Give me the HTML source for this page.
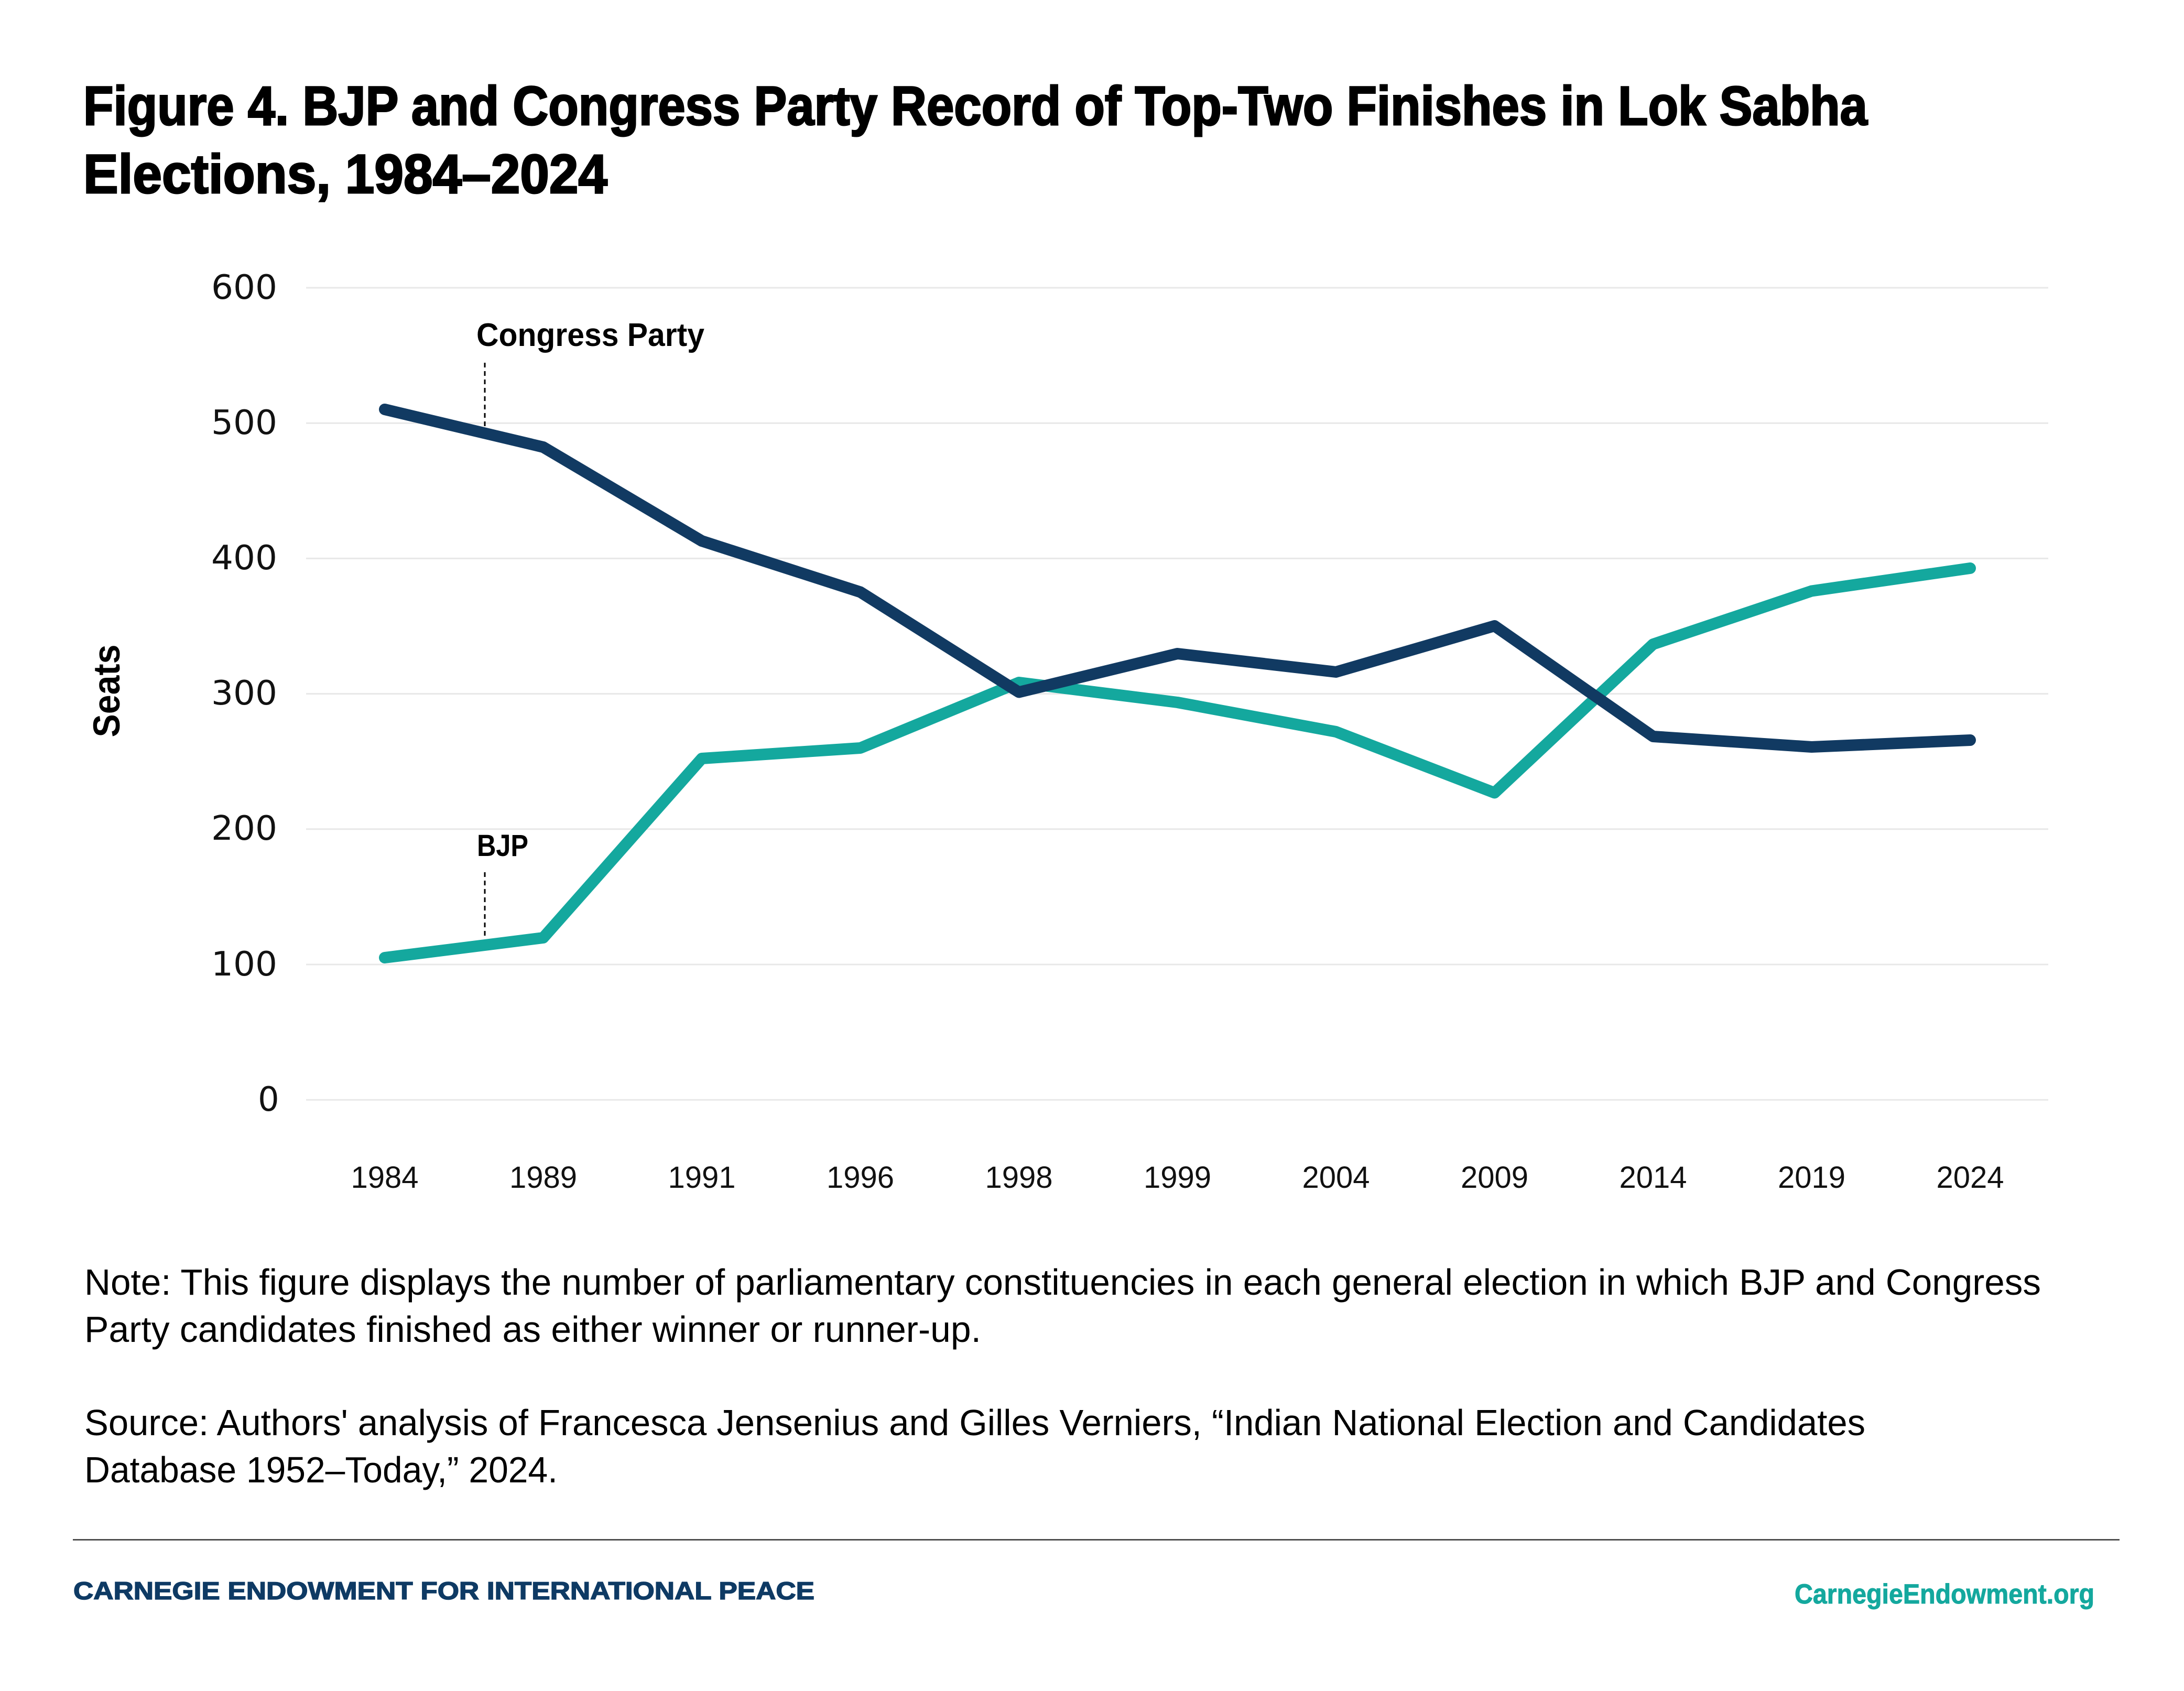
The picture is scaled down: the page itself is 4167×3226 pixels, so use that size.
<!DOCTYPE html>
<html>
<head>
<meta charset="utf-8">
<style>
  html, body { margin: 0; padding: 0; background: #ffffff; }
  svg { display: block; }
</style>
</head>
<body>
<svg width="4167" height="3226" viewBox="0 0 4167 3226" xmlns="http://www.w3.org/2000/svg">
  <rect x="0" y="0" width="4167" height="3226" fill="#ffffff"/>

  <!-- Title -->
  <g font-family="'Liberation Sans', 'DejaVu Sans', sans-serif" font-weight="bold" font-size="105" fill="#000" stroke="#000" stroke-width="3">
    <text x="159" y="238" textLength="3404" lengthAdjust="spacingAndGlyphs">Figure 4. BJP and Congress Party Record of Top-Two Finishes in Lok Sabha</text>
    <text x="159" y="368" textLength="1000" lengthAdjust="spacingAndGlyphs">Elections, 1984–2024</text>
  </g>

  <!-- Gridlines -->
  <g stroke="#e8e8e8" stroke-width="3">
    <line x1="584" y1="549" x2="3908" y2="549"/>
    <line x1="584" y1="807.2" x2="3908" y2="807.2"/>
    <line x1="584" y1="1065.4" x2="3908" y2="1065.4"/>
    <line x1="584" y1="1323.6" x2="3908" y2="1323.6"/>
    <line x1="584" y1="1581.8" x2="3908" y2="1581.8"/>
    <line x1="584" y1="1840" x2="3908" y2="1840"/>
    <line x1="584" y1="2098.2" x2="3908" y2="2098.2"/>
  </g>

  <!-- Y tick labels -->
  <g font-family="'DejaVu Sans', 'Liberation Sans', sans-serif" font-size="64" fill="#111">
    <text x="403" y="570" textLength="126" lengthAdjust="spacingAndGlyphs">600</text>
    <text x="403" y="828" textLength="126" lengthAdjust="spacingAndGlyphs">500</text>
    <text x="403" y="1086" textLength="126" lengthAdjust="spacingAndGlyphs">400</text>
    <text x="403" y="1344" textLength="126" lengthAdjust="spacingAndGlyphs">300</text>
    <text x="403" y="1602" textLength="126" lengthAdjust="spacingAndGlyphs">200</text>
    <text x="403" y="1861" textLength="126" lengthAdjust="spacingAndGlyphs">100</text>
    <text x="492" y="2119">0</text>
  </g>

  <!-- Y axis title -->
  <text transform="translate(228,1318) rotate(-90)" text-anchor="middle" font-family="'Liberation Sans', 'DejaVu Sans', sans-serif" font-weight="bold" font-size="71" fill="#000" textLength="177" lengthAdjust="spacingAndGlyphs">Seats</text>

  <!-- X tick labels -->
  <g font-family="'Liberation Sans', 'DejaVu Sans', sans-serif" font-size="58" fill="#111" text-anchor="middle">
    <text x="734" y="2266">1984</text>
    <text x="1036.5" y="2266">1989</text>
    <text x="1339" y="2266">1991</text>
    <text x="1641.5" y="2266">1996</text>
    <text x="1944" y="2266">1998</text>
    <text x="2246.5" y="2266">1999</text>
    <text x="2549" y="2266">2004</text>
    <text x="2851.5" y="2266">2009</text>
    <text x="3154" y="2266">2014</text>
    <text x="3456.5" y="2266">2019</text>
    <text x="3759" y="2266">2024</text>
  </g>

  <!-- Annotation dashed lines -->
  <g stroke="#000" stroke-width="3" stroke-dasharray="9 7" fill="none">
    <line x1="925" y1="692" x2="925" y2="815"/>
    <line x1="925" y1="1664" x2="925" y2="1789"/>
  </g>

  <!-- BJP series -->
  <polyline fill="none" stroke="#14a89e" stroke-width="22" stroke-linecap="round" stroke-linejoin="round"
    points="734,1827 1036.5,1789 1339,1447 1641.5,1427 1944,1302 2246.5,1340 2549,1396 2851.5,1512.5 3154,1229 3456.5,1127.5 3759,1084"/>

  <!-- Congress series -->
  <polyline fill="none" stroke="#113a62" stroke-width="22" stroke-linecap="round" stroke-linejoin="round"
    points="734,781 1036.5,853 1339,1032 1641.5,1129.5 1944,1320.5 2246.5,1247 2549,1282 2851.5,1194 3154,1405 3456.5,1425 3759,1412"/>

  <!-- Series labels -->
  <g font-family="'Liberation Sans', 'DejaVu Sans', sans-serif" font-weight="bold" fill="#000">
    <text x="909" y="660" font-size="62" textLength="435" lengthAdjust="spacingAndGlyphs">Congress Party</text>
    <text x="910" y="1633" font-size="58" textLength="98" lengthAdjust="spacingAndGlyphs">BJP</text>
  </g>

  <!-- Notes -->
  <g font-family="'Liberation Sans', 'DejaVu Sans', sans-serif" font-size="70" fill="#000">
    <text x="161" y="2470" textLength="3733" lengthAdjust="spacingAndGlyphs">Note: This figure displays the number of parliamentary constituencies in each general election in which BJP and Congress</text>
    <text x="161" y="2560" textLength="1711" lengthAdjust="spacingAndGlyphs">Party candidates finished as either winner or runner-up.</text>
    <text x="161" y="2738" textLength="3398" lengthAdjust="spacingAndGlyphs">Source: Authors' analysis of Francesca Jensenius and Gilles Verniers, “Indian National Election and Candidates</text>
    <text x="161" y="2828" textLength="903" lengthAdjust="spacingAndGlyphs">Database 1952–Today,” 2024.</text>
  </g>

  <!-- Footer rule -->
  <line x1="139" y1="2937.5" x2="4044" y2="2937.5" stroke="#333" stroke-width="2.5"/>

  <!-- Footer text -->
  <text x="140" y="3051" font-family="'Liberation Sans', 'DejaVu Sans', sans-serif" font-weight="bold" font-size="47" fill="#0e3a64" stroke="#0e3a64" stroke-width="1.5" textLength="1414" lengthAdjust="spacingAndGlyphs">CARNEGIE ENDOWMENT FOR INTERNATIONAL PEACE</text>
  <text x="3424" y="3059" font-family="'Liberation Sans', 'DejaVu Sans', sans-serif" font-weight="bold" font-size="53" fill="#14a89e" stroke="#14a89e" stroke-width="1" textLength="572" lengthAdjust="spacingAndGlyphs">CarnegieEndowment.org</text>
</svg>
</body>
</html>
